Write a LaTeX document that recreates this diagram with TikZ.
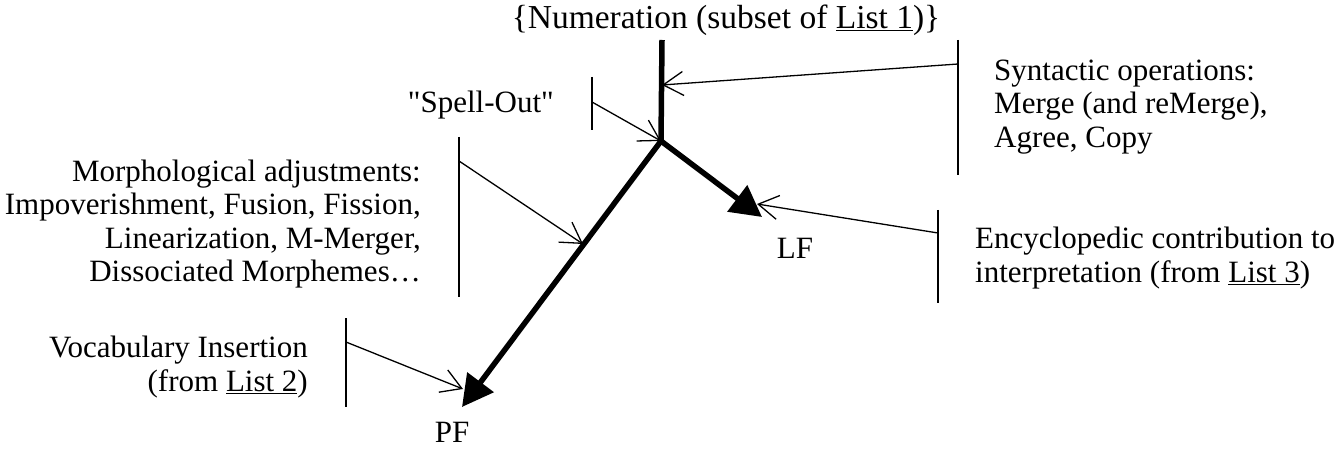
\documentclass[tikz,border=0pt]{standalone}
\usepackage{fontspec}
\setmainfont{Liberation Serif}
\usetikzlibrary{arrows.meta}
\tikzset{
  trunk/.style={line width=5.5pt},
  bigarrow/.style={line width=5.5pt,-{Triangle[length=31pt,width=32pt]}},
  thinarrow/.style={line width=1.3pt,-{Straight Barb[length=20pt,width=24pt,line width=1.3pt]}},
  bar/.style={line width=1.3pt},
  lbl/.style={inner sep=0pt,font=\fontsize{31}{33.5}\selectfont},
  toplbl/.style={inner sep=0pt,font=\fontsize{33.5}{36}\selectfont},
  endlbl/.style={inner sep=0pt,font=\fontsize{31}{33.5}\selectfont},
}
\begin{document}
\begin{tikzpicture}[x=1pt,y=-1pt]
\useasboundingbox (0,0) rectangle (1344,449);
% main skeleton
\coordinate (T) at (662,40);
\coordinate (J) at (661,141);
\coordinate (LFt) at (762,217);
\coordinate (PFt) at (462,407);
\draw[trunk] (T) -- (J);
\draw[bigarrow] (J) -- (LFt);
\draw[bigarrow] (J) -- (PFt);
\node[toplbl] (num) at (726,20) {\{Numeration (subset of \underline{List 1})\}};
\node[endlbl] (lf) at (795,248) {LF};
\node[endlbl] (pf) at (452,432) {PF};
% syntactic operations
\coordinate (synA) at (958,40);
\coordinate (synB) at (958,175);
\coordinate (synS) at (958,64);
\coordinate (synE) at (662,85);
\draw[bar] (synA) -- (synB);
\draw[thinarrow] (synS) -- (synE);
\node[lbl,anchor=west,align=left] (syn) at (994,107) {Syntactic operations:\\Merge (and reMerge),\\Agree, Copy};
% spell-out
\coordinate (spA) at (592,77);
\coordinate (spB) at (592,130);
\coordinate (spS) at (592,102);
\draw[bar] (spA) -- (spB);
\draw[thinarrow] (spS) -- (J);
\node[lbl,anchor=east] (sp) at (554,105) {\textquotedbl Spell-Out\textquotedbl};
% morphological adjustments
\coordinate (moA) at (459,137);
\coordinate (moB) at (459,297);
\coordinate (moS) at (459,161);
\coordinate (moE) at (583,244);
\draw[bar] (moA) -- (moB);
\draw[thinarrow] (moS) -- (moE);
\node[lbl,anchor=east,align=right] (mo) at (421,224) {Morphological adjustments:\\Impoverishment, Fusion, Fission,\\Linearization, M-Merger,\\Dissociated Morphemes\ldots};
% encyclopedic
\coordinate (enA) at (938,210);
\coordinate (enB) at (938,303);
\coordinate (enS) at (938,233);
\coordinate (enE) at (757,204);
\draw[bar] (enA) -- (enB);
\draw[thinarrow] (enS) -- (enE);
\node[lbl,anchor=west,align=left] (en) at (975,258) {Encyclopedic contribution to\\interpretation (from \underline{List 3})};
% vocabulary insertion
\coordinate (voA) at (346,318);
\coordinate (voB) at (346,407);
\coordinate (voS) at (346,342);
\coordinate (voE) at (463,389);
\draw[bar] (voA) -- (voB);
\draw[thinarrow] (voS) -- (voE);
\node[lbl,anchor=east,align=right] (vo) at (308,367) {Vocabulary Insertion\\(from \underline{List 2})};
\end{tikzpicture}
\end{document}
